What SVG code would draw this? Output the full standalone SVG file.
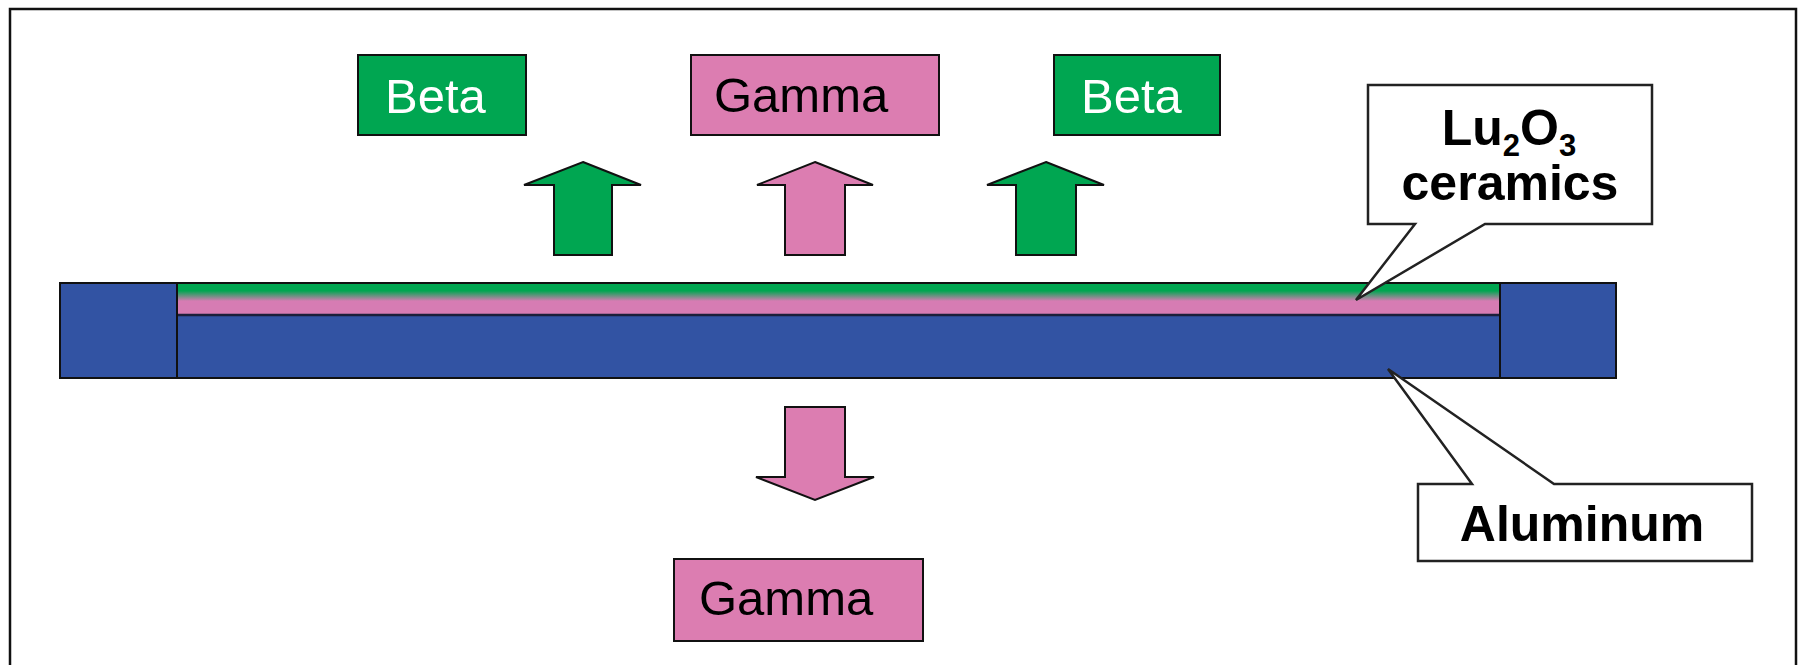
<svg xmlns="http://www.w3.org/2000/svg" width="1802" height="665" viewBox="0 0 1802 665">
  <defs>
    <linearGradient id="ceramic" x1="0" y1="0" x2="0" y2="1">
      <stop offset="0" stop-color="#00A651"/>
      <stop offset="0.22" stop-color="#00A651"/>
      <stop offset="0.55" stop-color="#D67CB3"/>
      <stop offset="1" stop-color="#D67CB3"/>
    </linearGradient>
  </defs>
  <style>
    .green { fill: #00A651; stroke: #111; stroke-width: 2; }
    .pink { fill: #DC7DB1; stroke: #111; stroke-width: 2; }
    .blue { fill: #3253A3; stroke: #111; stroke-width: 2; }
    .callout { fill: #fff; stroke: #222; stroke-width: 2.5; stroke-linejoin: miter; }
    .lbl { font-family: "Liberation Sans", Arial, sans-serif; font-size: 49px; }
    .bold { font-family: "Liberation Sans", Arial, sans-serif; font-size: 50px; font-weight: bold; fill: #000; }
  </style>
  <rect x="0" y="0" width="1802" height="665" fill="#fff"/>
  <rect id="frame" x="10" y="9" width="1786" height="670" fill="none" stroke="#111" stroke-width="2.5"/>

  <g id="layer-stack">
    <rect class="blue" x="60" y="283" width="1556" height="95"/>
    <rect x="177" y="284" width="1323" height="31" fill="url(#ceramic)"/>
    <line x1="177" y1="315" x2="1500" y2="315" stroke="#1a1f3a" stroke-width="2.5"/>
    <line x1="177" y1="283" x2="177" y2="378" stroke="#111" stroke-width="2"/>
    <line x1="1500" y1="283" x2="1500" y2="378" stroke="#111" stroke-width="2"/>
  </g>

  <g id="beta-left">
    <rect class="green" x="358" y="55" width="168" height="80"/>
    <text class="lbl" x="385" y="113" fill="#fff">Beta</text>
  </g>
  <g id="gamma-top">
    <rect class="pink" x="691" y="55" width="248" height="80"/>
    <text class="lbl" x="714" y="112" fill="#000">Gamma</text>
  </g>
  <g id="beta-right">
    <rect class="green" x="1054" y="55" width="166" height="80"/>
    <text class="lbl" x="1081" y="113" fill="#fff">Beta</text>
  </g>
  <g id="gamma-bottom">
    <rect class="pink" x="674" y="559" width="249" height="82"/>
    <text class="lbl" x="699" y="615" fill="#000">Gamma</text>
  </g>

  <g id="connectors">
    <polygon class="green" points="583,162 641,185 612,185 612,255 554,255 554,185 524,185"/>
    <polygon class="pink" points="815,162 873,185 845,185 845,255 785,255 785,185 757,185"/>
    <polygon class="green" points="1046,162 1104,185 1076,185 1076,255 1016,255 1016,185 987,185"/>
    <polygon class="pink" points="785,407 845,407 845,477 874,477 815,500 756,477 785,477"/>
  </g>

  <g id="callout-ceramics">
    <path class="callout" d="M1368,85 L1652,85 L1652,224 L1485,224 L1356,300 L1415,224 L1368,224 Z"/>
    <text class="bold" x="1509" y="145" text-anchor="middle">Lu<tspan font-size="31" dy="11">2</tspan><tspan dy="-11">O</tspan><tspan font-size="31" dy="11">3</tspan></text>
    <text class="bold" x="1510" y="200" text-anchor="middle">ceramics</text>
  </g>

  <g id="callout-aluminum">
    <path class="callout" d="M1418,484 L1472,484 L1388,369 L1554,484 L1752,484 L1752,561 L1418,561 Z"/>
    <text class="bold" x="1582" y="541" text-anchor="middle">Aluminum</text>
  </g>
</svg>
